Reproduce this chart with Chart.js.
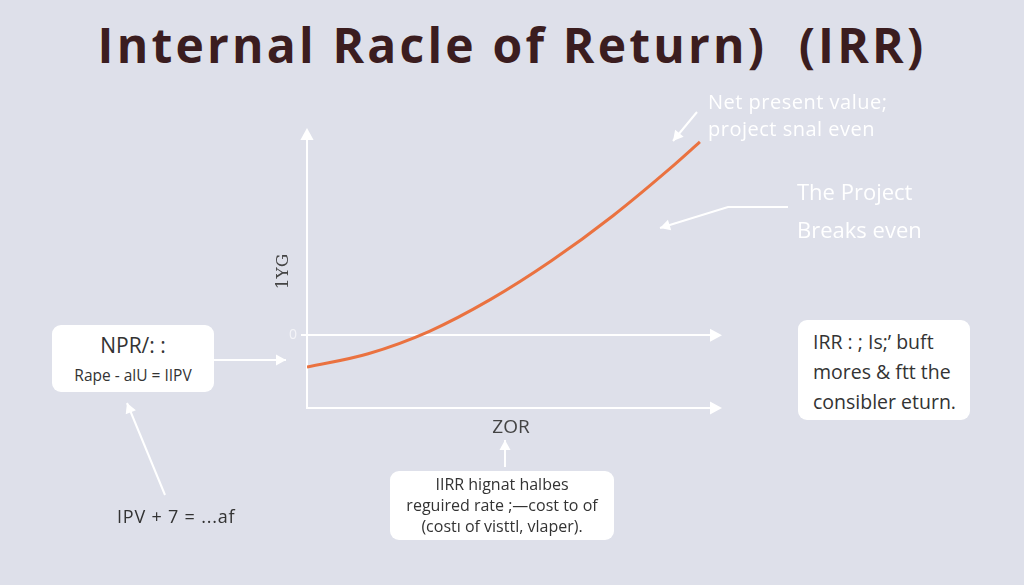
<!DOCTYPE html>
<html>
<head>
<meta charset="utf-8">
<script src="https://cdn.jsdelivr.net/npm/chart.js@4.4.1/dist/chart.umd.min.js"></script>
<style>
    html, body { margin: 0; padding: 0; }
    body {
        width: 1024px;
        height: 585px;
        overflow: hidden;
        position: relative;
        background: #dee0ea;
        font-family: "Open Sans", "Lato", sans-serif;
    }
    #chart { position: absolute; left: 0; top: 0; }
    h1 {
        position: absolute;
        left: 0;
        width: 1024px;
        top: 15px;
        margin: 0;
        text-align: center;
        font-family: "Open Sans", sans-serif;
        font-weight: 700;
        font-size: 48px;
        line-height: 60px;
        color: #3b1d1f;
        letter-spacing: 3.2px;
    }
    .note { position: absolute; color: #fff; font-size: 22px; line-height: 38px; white-space: nowrap; }
    .box {
        position: absolute;
        background: #fff;
        border-radius: 9px;
        color: #333;
        text-align: center;
        white-space: nowrap;
    }
    .plain { position: absolute; color: #333; font-size: 18px; letter-spacing: 0.8px; white-space: nowrap; }
</style>
</head>
<body>
<h1>Internal Racle of Return)&nbsp; (IRR)</h1>
<canvas id="chart" width="1024" height="585"></canvas>

<div class="note" style="left:708px; top:88px; font-size:20px; line-height:27px; letter-spacing:0.5px;">Net present value;<br>project snal even</div>
<div class="note" style="left:797px; top:172px;">The Project<br>Breaks even</div>

<div class="box" style="left:52px; top:325px; width:162px; height:67px;">
    <div style="font-size:21px; margin-top:6px;">NPR/: :</div>
    <div style="font-size:15.5px; margin-top:5px;">Rape - alU = IIPV</div>
</div>
<div class="plain" style="left:117px; top:504px;">IPV + 7 = ...af</div>

<div class="box" style="left:390px; top:471px; width:224px; height:69px; font-size:16px; line-height:21px; padding-top:3px; box-sizing:border-box;">
    IIRR hignat halbes<br>reguired rate ;—cost to of<br>(costı of visttl, vlaper).
</div>

<div class="box" style="left:798px; top:320px; width:172px; height:100px; font-size:19.5px; line-height:30px; text-align:left; padding:7px 0 0 15px; box-sizing:border-box;">
    IRR : ; Is;’ buft<br>mores &amp; ftt the<br>consibler eturn.
</div>

<script>
const rates = [0, 1.5, 3, 4.5, 6, 7.5, 9, 9.63];
const npv = [-3.2, -1.85, 0.4, 3.6, 7.5, 12.0, 17.1, 19.4];
const yTicks = [0];
const xTitle = "ZOR";
const yTitle = "1YG";

const axisColor = "#ffffff";
const lineColor = "#ea7240";

function arrowHead(ctx, x, y, angle, size) {
    ctx.save();
    ctx.translate(x, y);
    ctx.rotate(angle);
    ctx.beginPath();
    ctx.moveTo(0, 0);
    ctx.lineTo(-size, -size * 0.55);
    ctx.lineTo(-size, size * 0.55);
    ctx.closePath();
    ctx.fill();
    ctx.restore();
}

function arrowLine(ctx, points) {
    ctx.beginPath();
    ctx.moveTo(points[0][0], points[0][1]);
    for (let i = 1; i < points.length; i++) {
        ctx.lineTo(points[i][0], points[i][1]);
    }
    ctx.stroke();
    const a = points[points.length - 2];
    const b = points[points.length - 1];
    arrowHead(ctx, b[0], b[1], Math.atan2(b[1] - a[1], b[0] - a[0]), 10);
}

const decorations = {
    id: "decorations",
    afterDraw: function (chart) {
        const ctx = chart.ctx;
        const area = chart.chartArea;
        const zeroY = chart.scales.y.getPixelForValue(0);

        ctx.save();
        ctx.fillStyle = axisColor;
        ctx.strokeStyle = axisColor;
        ctx.lineWidth = 2;

        // axis arrow heads
        arrowHead(ctx, area.left, area.top - 7, -Math.PI / 2, 12);
        arrowHead(ctx, area.right + 7, area.bottom, 0, 12);
        arrowHead(ctx, area.right + 7, zeroY, 0, 12);

        // callout arrows
        arrowLine(ctx, [[697, 112], [673, 141]]);
        arrowLine(ctx, [[788, 207], [728, 207], [660, 228]]);
        arrowLine(ctx, [[214, 360], [286, 360]]);
        arrowLine(ctx, [[165, 495], [127, 403]]);
        arrowLine(ctx, [[505, 467], [505, 440]]);
        ctx.restore();
    }
};

new Chart(document.getElementById("chart"), {
    type: "line",
    data: {
        datasets: [{
            data: rates.map(function (r, i) { return { x: r, y: npv[i] }; }),
            borderColor: lineColor,
            borderWidth: 3,
            pointRadius: 0,
            cubicInterpolationMode: "monotone"
        }]
    },
    options: {
        responsive: false,
        animation: false,
        layout: { padding: { left: 273, right: 309, top: 135, bottom: 146 } },
        plugins: { legend: { display: false }, tooltip: { enabled: false } },
        scales: {
            x: {
                type: "linear",
                min: 0,
                max: 10,
                border: { color: axisColor, width: 2 },
                grid: { display: false },
                ticks: { display: false },
                title: { display: true, text: xTitle, color: "#444", font: { size: 19, family: "Open Sans" }, padding: 0 },
                afterFit: function (scale) { scale.height = 31; }
            },
            y: {
                min: -7.3,
                max: 20.1,
                border: { color: axisColor, width: 2 },
                grid: {
                    color: function (c) { return c.tick && c.tick.value === 0 ? axisColor : "rgba(0,0,0,0)"; },
                    lineWidth: 2,
                    tickLength: 6
                },
                afterBuildTicks: function (scale) {
                    scale.ticks = yTicks.map(function (v) { return { value: v }; });
                },
                ticks: { color: "#f4f4f8", font: { size: 14, family: "Open Sans" }, padding: 4 },
                title: { display: true, text: yTitle, color: "#444", font: { size: 17, family: "DejaVu Serif" }, padding: 0 },
                afterFit: function (scale) { scale.width = 34; }
            }
        }
    },
    plugins: [decorations]
});
</script>
</body>
</html>
